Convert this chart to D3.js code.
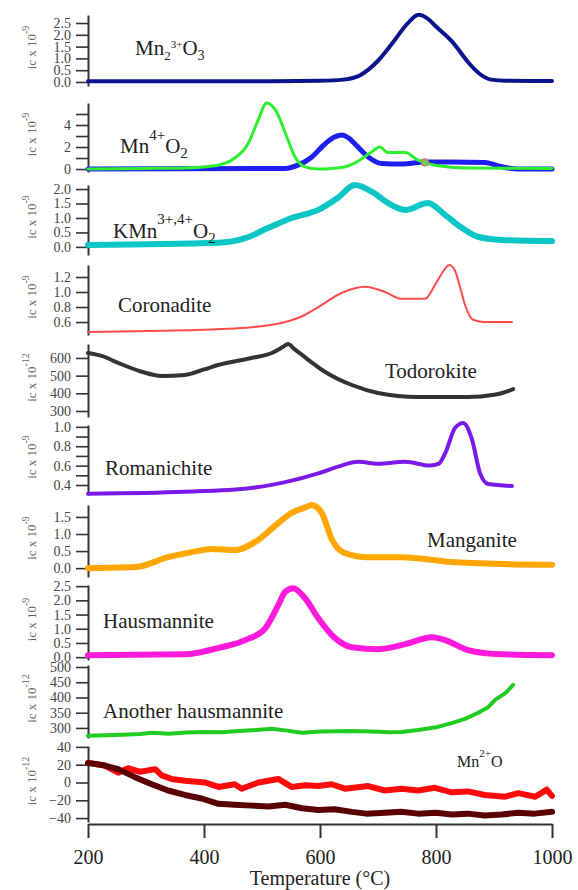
<!DOCTYPE html>
<html>
<head>
<meta charset="utf-8">
<script src="https://cdn.jsdelivr.net/npm/d3@7"></script>
<style>
body { margin: 0; background: #fff; }
svg { display: block; }
</style>
</head>
<body>
<svg id="chart" width="578" height="890"></svg>
<script>
// temperature axis
const xTicks = [200, 400, 600, 800, 1000];

// [temperature, ion current]
const mn2o3 = [[200,0.03],[400,0.03],[520,0.03],[600,0.05],[640,0.1],[670,0.3],[700,0.9],[725,1.65],[750,2.45],[770,2.85],[785,2.7],[800,2.35],[830,1.65],[855,0.85],[875,0.35],[895,0.1],[920,0.05],[1000,0.04]];
const mno2Green = [[200,0],[300,0.05],[367,0.1],[424,0.35],[453,1.0],[476,2.3],[493,4.4],[508,6.0],[525,5.2],[540,3.3],[557,1.1],[574,0.2],[597,0.0],[620,0.05],[643,0.2],[665,0.7],[690,1.6],[703,2.0],[717,1.5],[747,1.5],[769,0.8],[798,0.35],[855,0.1],[1000,0.05]];
const mno2Blue = [[200,0.0],[540,0.05],[562,0.35],[586,1.1],[609,2.3],[625,2.9],[638,3.1],[650,2.8],[660,2.3],[683,1.1],[707,0.5],[741,0.45],[781,0.65],[827,0.65],[884,0.6],[914,0.2],[941,0.0],[1000,0.0]];
const mno2Marker = [[781,0.6]];
const kmno2 = [[200,0.07],[424,0.14],[471,0.3],[510,0.65],[551,1.0],[597,1.28],[631,1.7],[660,2.14],[690,1.9],[717,1.52],[747,1.28],[786,1.52],[816,1.1],[845,0.65],[872,0.35],[914,0.24],[1000,0.2]];
const coronadite = [[200,0.467],[300,0.48],[367,0.49],[482,0.53],[540,0.6],[570,0.68],[597,0.8],[638,0.99],[660,1.05],[678,1.07],[712,1.0],[741,0.91],[781,0.91],[798,1.09],[812,1.27],[823,1.36],[833,1.28],[842,1.05],[850,0.83],[864,0.63],[884,0.6],[931,0.6]];
const todorokite = [[200,628],[225,610],[252,572],[290,525],[327,498],[367,504],[400,535],[424,560],[482,600],[517,628],[535,660],[545,679],[556,650],[569,617],[609,521],[655,447],[700,402],[769,379],[855,379],[900,392],[914,402],[933,424]];
const romanichite = [[200,0.31],[367,0.33],[482,0.37],[540,0.43],[597,0.52],[631,0.59],[666,0.64],[700,0.62],[747,0.64],[790,0.6],[805,0.62],[816,0.73],[833,0.99],[847,1.04],[862,0.87],[876,0.52],[890,0.41],[931,0.39]];
const manganite = [[200,0],[281,0.03],[338,0.32],[379,0.47],[414,0.56],[453,0.53],[493,0.82],[528,1.32],[551,1.62],[575,1.78],[586,1.85],[595,1.78],[603,1.62],[621,0.82],[643,0.44],[683,0.32],[741,0.32],[827,0.18],[914,0.12],[1000,0.1]];
const hausmannite = [[200,0.07],[367,0.1],[424,0.32],[471,0.6],[505,1.0],[528,1.83],[540,2.3],[554,2.43],[574,2.08],[597,1.37],[626,0.67],[655,0.35],[700,0.28],[747,0.46],[793,0.7],[816,0.6],[855,0.25],[914,0.1],[1000,0.07]];
const anotherHaus = [[200,274],[230,276],[260,278],[290,280],[310,284],[340,281],[370,285],[400,287],[430,286],[460,290],[490,293],[517,297],[540,292],[569,284],[600,288],[630,289],[655,290],[690,288],[720,286],[741,287],[769,293],[800,302],[827,316],[850,330],[872,349],[890,368],[902,392],[920,415],[933,441]];
const mnoRed = [[200,22],[229,19],[252,11],[269,16],[290,12],[316,15],[327,8],[344,4],[367,2],[402,0],[425,-5],[453,-2],[465,-7],[494,0],[528,4],[551,-5],[575,-3],[597,-4],[620,-2],[643,-7],[683,-4],[712,-9],[740,-7],[769,-9],[798,-6],[827,-11],[855,-10],[884,-14],[919,-16],[942,-12],[971,-16],[991,-8],[1000,-15]];
const mnoDark = [[200,22],[229,19],[252,15],[281,6],[310,-2],[338,-9],[367,-14],[396,-18],[425,-24],[453,-25],[482,-26],[511,-27],[540,-25],[569,-29],[597,-31],[625,-30],[655,-33],[680,-35],[712,-34],[740,-33],[769,-35],[800,-34],[827,-36],[855,-35],[884,-37],[913,-36],[942,-34],[970,-35],[1000,-33]];

// y ticks per panel
const ticks1 = [0, 0.5, 1, 1.5, 2, 2.5];
const ticks2 = [0, 1, 2, 3, 4, 5], labels2 = [0, 2, 4];
const ticks3 = [0, 0.5, 1, 1.5, 2];
const ticks4 = [0.6, 0.8, 1, 1.2];
const ticks5 = [300, 400, 500, 600];
const ticks6 = [0.4, 0.5, 0.6, 0.7, 0.8, 0.9, 1], labels6 = [0.4, 0.6, 0.8, 1];
const ticks7 = [0, 0.5, 1, 1.5];
const ticks8 = [0, 0.5, 1, 1.5, 2, 2.5];
const ticks9 = [300, 350, 400, 450, 500];
const ticks10 = [-40, -20, 0, 20, 40];

const serif = "'Liberation Serif', 'Times New Roman', serif";

const panels = [
  { top: 15, bottom: 86, domain: [-0.17, 2.84], ticks: ticks1, fmt: ".1f", exp: "-9", lines: [{ d: mn2o3, c: "#0a148c", w: 4 }] },
  { top: 103, bottom: 172, domain: [-0.27, 6.0], ticks: ticks2, labels: labels2, fmt: "d", exp: "-9", lines: [{ d: mno2Blue, c: "#1e1ef0", w: 5 }, { d: mno2Green, c: "#2ff02f", w: 3 }] },
  { top: 185, bottom: 255, domain: [-0.28, 2.14], ticks: ticks3, fmt: ".1f", exp: "-9", lines: [{ d: kmno2, c: "#0cc6c6", w: 6 }] },
  { top: 265, bottom: 335, domain: [0.427, 1.36], ticks: ticks4, fmt: ".1f", exp: "-9", lines: [{ d: coronadite, c: "#ff4a4a", w: 2 }] },
  { top: 344, bottom: 417, domain: [266, 679], ticks: ticks5, fmt: "d", exp: "-12", lines: [{ d: todorokite, c: "#333333", w: 4 }] },
  { top: 425, bottom: 495, domain: [0.297, 1.019], ticks: ticks6, labels: labels6, fmt: ".1f", exp: "-9", lines: [{ d: romanichite, c: "#7a1ae8", w: 4 }] },
  { top: 505, bottom: 577, domain: [-0.26, 1.85], ticks: ticks7, fmt: ".1f", exp: "-9", lines: [{ d: manganite, c: "#ffa600", w: 6 }] },
  { top: 585, bottom: 660, domain: [-0.1, 2.54], ticks: ticks8, fmt: ".1f", exp: "-9", lines: [{ d: hausmannite, c: "#ff1adc", w: 6 }] },
  { top: 665, bottom: 738, domain: [267, 506.6], ticks: ticks9, fmt: "d", exp: "-12", lines: [{ d: anotherHaus, c: "#1fcc1f", w: 4, rough: true }] },
  { top: 746, bottom: 822, domain: [-44.4, 41], ticks: ticks10, fmt: "d", exp: "-12", lines: [{ d: mnoRed, c: "#ff0a0a", w: 6, rough: true }, { d: mnoDark, c: "#5a0000", w: 6, rough: true }] }
];

const svg = d3.select("#chart");
const x = d3.scaleLinear().domain([200, 1000]).range([88, 552]);

panels.forEach((p, i) => {
  const y = d3.scaleLinear().domain(p.domain).range([p.bottom, p.top]);
  const f = d3.format(p.fmt);
  const labs = p.labels || p.ticks;

  const ax = svg.append("g")
    .attr("transform", "translate(88,0)")
    .call(d3.axisLeft(y).tickValues(p.ticks).tickSize(12).tickSizeOuter(0).tickPadding(5)
      .tickFormat(d => labs.includes(d) ? f(d) : ""));
  ax.select(".domain").attr("stroke", "#333").attr("stroke-width", 2);
  ax.selectAll(".tick line").attr("stroke", "#333").attr("stroke-width", 1.6);
  ax.selectAll(".tick text")
    .attr("fill", "#444")
    .style("font-family", serif)
    .style("font-size", "14px");

  // y label  ic x 10^-n
  const yl = svg.append("text")
    .attr("transform", `translate(36,${(p.top + p.bottom) / 2 - 3}) rotate(-90)`)
    .attr("text-anchor", "middle")
    .attr("fill", "#666")
    .style("font-family", serif)
    .style("font-size", "13px");
  yl.append("tspan").text("ic x 10");
  yl.append("tspan").attr("dy", -7).style("font-size", "10px").text(p.exp);

  const line = d3.line()
    .x(d => x(d[0]))
    .y(d => y(d[1]));

  p.lines.forEach(l => {
    svg.append("path")
      .datum(l.d)
      .attr("fill", "none")
      .attr("stroke", l.c)
      .attr("stroke-width", l.w)
      .attr("stroke-linejoin", "round")
      .attr("stroke-linecap", "round")
      .attr("d", line.curve(l.rough ? d3.curveLinear : d3.curveMonotoneX));
  });

  if (i === 1) {
    svg.selectAll(".marker")
      .data(mno2Marker)
      .enter().append("circle")
      .attr("cx", d => x(d[0]))
      .attr("cy", d => y(d[1]))
      .attr("r", 3.5)
      .attr("fill", "#6fcf4f")
      .attr("stroke", "#c07a7a")
      .attr("stroke-width", 1.2);
  }
});

// x axis
const xa = svg.append("g")
  .attr("transform", "translate(0,824)")
  .call(d3.axisBottom(x).tickValues(xTicks).tickSize(14).tickSizeOuter(0).tickPadding(12).tickFormat(d3.format("d")));
xa.select(".domain").attr("stroke", "#333").attr("stroke-width", 2);
xa.selectAll(".tick line").attr("stroke", "#333").attr("stroke-width", 2);
xa.selectAll(".tick text")
  .attr("fill", "#222")
  .style("font-family", serif)
  .style("font-size", "20px");

svg.append("text")
  .attr("x", 320).attr("y", 885)
  .attr("text-anchor", "middle")
  .attr("fill", "#222")
  .style("font-family", serif)
  .style("font-size", "20px")
  .text("Temperature (°C)");

// panel labels
function label(xp, yp, parts, size) {
  const t = svg.append("text")
    .attr("x", xp).attr("y", yp)
    .attr("fill", "#222")
    .style("font-family", serif)
    .style("font-size", size + "px");
  parts.forEach(s => {
    const ts = t.append("tspan").text(s[0]);
    if (s[1]) ts.attr("dy", s[1]);
    if (s[2]) ts.style("font-size", s[2] + "px");
  });
}

label(135, 55, [["Mn"], ["2", 5, 13], ["3+", -12, 11], ["O", 7], ["3", 5, 14]], 21);
label(120, 153, [["Mn"], ["4+", -13, 15], ["O", 13], ["2", 5, 15]], 21);
label(113, 238, [["KMn"], ["3+,4+", -14, 15], ["O", 14], ["2", 5, 15]], 21);
label(118, 312, [["Coronadite"]], 21);
label(385, 378, [["Todorokite"]], 21);
label(105, 475, [["Romanichite"]], 21);
label(427, 547, [["Manganite"]], 21);
label(103, 628, [["Hausmannite"]], 21);
label(103, 718, [["Another hausmannite"]], 21);
label(457, 767, [["Mn"], ["2+", -10, 11], ["O", 10]], 16);
</script>
</body>
</html>
